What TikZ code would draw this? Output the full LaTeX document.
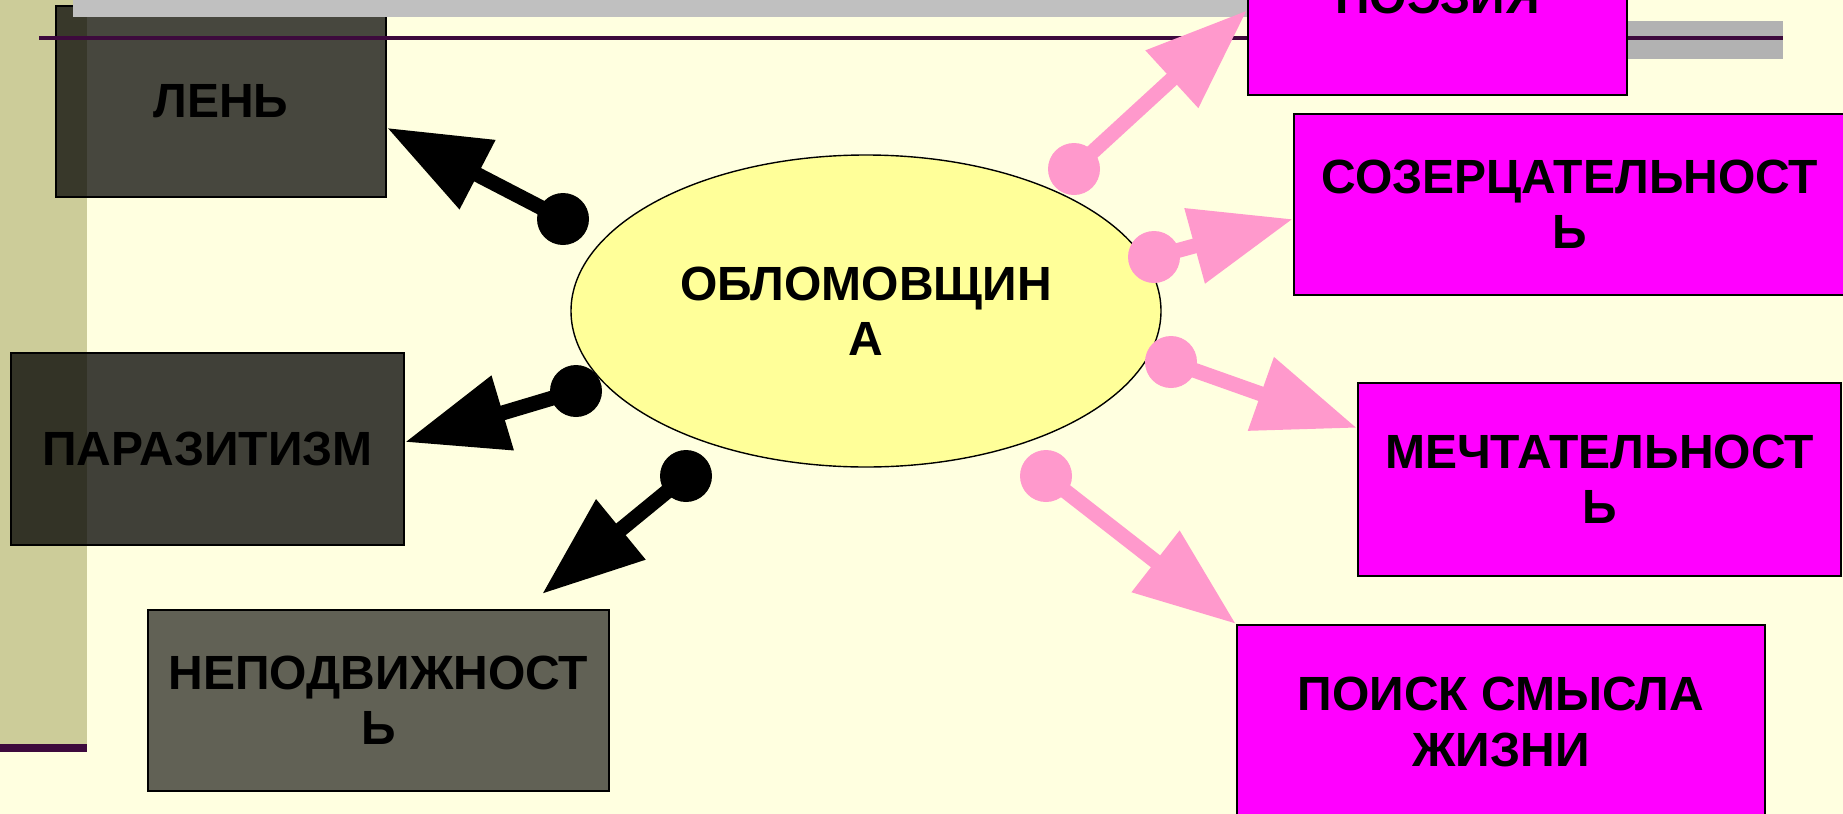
\documentclass[tikz,border=0pt]{standalone}
\usepackage{fontspec}
\setmainfont{Liberation Sans}
\usepackage{tikz}
\usetikzlibrary{arrows.meta,shapes.geometric,calc}
\definecolor{slidebg}{HTML}{FFFFE0}
\definecolor{olivebar}{HTML}{CCCC99}
\definecolor{plumline}{HTML}{3D0A3D}
\definecolor{greybar}{HTML}{C0C0C0}
\definecolor{greyblock}{HTML}{B2B2B2}
\definecolor{ovalfill}{HTML}{FFFF99}
\definecolor{magentabox}{HTML}{FF00FF}
\definecolor{pinkarrow}{HTML}{FF99CC}

\tikzset{
  word/.style={font=\bfseries\fontsize{24}{27.6}\selectfont, align=center, text=black},
  darkbox/.style={word, draw=black, line width=1pt, fill=black, text opacity=1, inner sep=0pt},
  brightbox/.style={word, draw=black, line width=1pt, fill=magentabox, inner sep=0pt},
  blob/.style={circle, fill=#1, minimum size=26pt, inner sep=0pt},
  pointer/.style={draw=#1, line width=7.5pt, -{Triangle[length=51pt,width=37pt]}}
}

\begin{document}
\begin{tikzpicture}[x=0.5pt, y=-0.5pt]
      \useasboundingbox (0,0) rectangle (1843,814);
      \clip (0,0) rectangle (1843,814);
      \fill[slidebg] (0,0) rectangle (1843,814);
      \fill[olivebar] (0,0) rectangle (87,744);
      \fill[plumline] (0,744) rectangle (87,752);

      \node[darkbox, fill opacity=0.72, minimum width=165pt, minimum height=95.5pt] (len) at (221,101.5) {ЛЕНЬ};
      \node[darkbox, fill opacity=0.75, minimum width=196.5pt, minimum height=96pt] (parazit) at (207.5,449) {ПАРАЗИТИЗМ};
      \node[darkbox, fill opacity=0.62, minimum width=230.5pt, minimum height=90.5pt] (nepodv) at (378.5,700.5) {НЕПОДВИЖНОСТ\\Ь};

      \fill[greybar] (73,0) rectangle (1281,16.5);
      \fill[greyblock] (1628,21) rectangle (1783,59);
      \draw[plumline, line width=2pt] (39,37.6) -- (1783,37.6);

      \node[ellipse, word, draw=black, line width=0.7pt, fill=ovalfill, inner sep=0pt,
            minimum width=295pt, minimum height=156pt] (oblom) at (866,311) {ОБЛОМОВЩИН\\А};

      \node[brightbox, minimum width=189.5pt, minimum height=98pt] (poeziya) at (1437.5,-3) {ПОЭЗИЯ};
      \node[brightbox, minimum width=276pt, minimum height=90.5pt] (sozerc) at (1570,204.5) {СОЗЕРЦАТЕЛЬНОСТ\\Ь};
      \node[brightbox, minimum width=241.5pt, minimum height=96.5pt] (mecht) at (1599.5,479.5) {МЕЧТАТЕЛЬНОСТ\\Ь};
      \node[brightbox, minimum width=264pt, minimum height=97pt] (poisk) at (1501,722) {ПОИСК СМЫСЛА\\ЖИЗНИ};

      \node[blob=black] (dlen) at (563,219) {};
      \node[blob=black] (dparazit) at (576,391) {};
      \node[blob=black] (dnepodv) at (686,476) {};
      \node[blob=pinkarrow] (dpoeziya) at (1074,169) {};
      \node[blob=pinkarrow] (dsozerc) at (1154,257) {};
      \node[blob=pinkarrow] (dmecht) at (1171,362) {};
      \node[blob=pinkarrow] (dpoisk) at (1046,476) {};
      \coordinate (tnepodv) at (542,594);

      \draw[pointer=black] (dlen.center) -- (len.-9);
      \draw[pointer=black] (dparazit.center) -- (parazit.2);
      \draw[pointer=black] (dnepodv.center) -- (tnepodv);
      \draw[pointer=pinkarrow] (dpoeziya.center) -- (poeziya.184.5);
      \draw[pointer=pinkarrow] (dsozerc.center) -- (sozerc.183);
      \draw[pointer=pinkarrow] (dmecht.center) -- (mecht.168.3);
      \draw[pointer=pinkarrow] (dpoisk.center) -- (poisk.north west);
    \end{tikzpicture}
\end{document}
